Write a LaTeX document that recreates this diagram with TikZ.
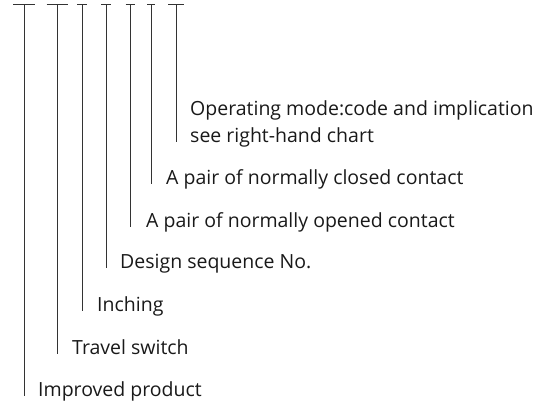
\documentclass[tikz,border=0pt]{standalone}
\usepackage{fontspec}
\setmainfont{Open Sans}
\usetikzlibrary{positioning}

\tikzset{
  label/.style={anchor=base west, inner sep=0pt, font=\fontsize{19.5}{27}\selectfont, text=black!90},
  stem/.style={draw=black!80, line width=0.8pt},
}

\begin{document}
\begin{tikzpicture}[x=1pt,y=-1pt]
  \useasboundingbox (0,0) rectangle (539,402);

  %% Labels
  \node[label] (impr) at (38,396) {Improved product};
  \node[label] (trav) at (72,354) {Travel switch};
  \node[label] (inch) at (97,311) {Inching};
  \node[label] (dsgn) at (120,268) {Design sequence No.};
  \node[label] (open) at (146,227) {A pair of normally opened contact};
  \node[label] (clsd) at (166,184) {A pair of normally closed contact};
  \node[label] (mode) at (190,115) {Operating mode:code and implication};
  \node[label] (chrt) at (190,142) {see right-hand chart};

  %% Tops of the stems
  \coordinate (t1) at (24,4);
  \coordinate (t2) at (57,4);
  \coordinate (t3) at (82,4);
  \coordinate (t4) at (106,4);
  \coordinate (t5) at (130,4);
  \coordinate (t6) at (151,4);
  \coordinate (t7) at (176,4);

  %% Bars
  \draw[stem] ([xshift=-11]t1) -- ([xshift=11]t1);
  \draw[stem] ([xshift=-10.5]t2) -- ([xshift=10.5]t2);
  \draw[stem] ([xshift=-5]t3) -- ([xshift=5]t3);
  \draw[stem] ([xshift=-5]t4) -- ([xshift=5]t4);
  \draw[stem] ([xshift=-4.5]t5) -- ([xshift=4.5]t5);
  \draw[stem] ([xshift=-4]t6) -- ([xshift=4]t6);
  \draw[stem] ([xshift=-8]t7) -- ([xshift=8]t7);

  %% Stems
  \draw[stem] (t1) -- (t1 |- impr.base);
  \draw[stem] (t2) -- (t2 |- trav.base);
  \draw[stem] (t3) -- (t3 |- inch.base);
  \draw[stem] (t4) -- (t4 |- dsgn.base);
  \draw[stem] (t5) -- (t5 |- open.base);
  \draw[stem] (t6) -- (t6 |- clsd.base);
  \draw[stem] (t7) -- (t7 |- chrt.base);

\end{tikzpicture}
\end{document}
